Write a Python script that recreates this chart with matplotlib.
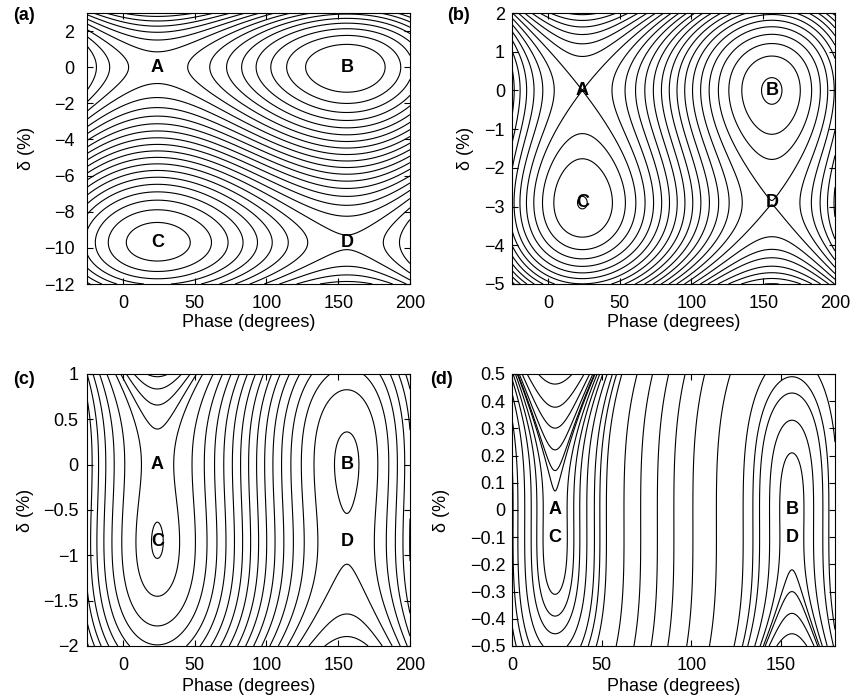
import numpy as np
import matplotlib
matplotlib.use("Agg")
import matplotlib.pyplot as plt

plt.rcParams['font.family'] = ['Liberation Sans', 'DejaVu Sans']

# ---- data / parameters ----
panel_names = ['(a)', '(b)', '(c)', '(d)']
phi_s_deg = 24.0                       # phase of fixed points A and C (deg)
delta2 = [-9.7, -2.9, -0.85, -0.1]     # momentum of fixed points C and D (%)
K_scale = [0.12, 0.12, 0.12, 0.12]     # kinetic / RF-potential ratio
xlims = [(-25, 200), (-25, 200), (-25, 200), (0, 180)]
ylims = [(-12, 3), (-5, 2), (-2, 1), (-0.5, 0.5)]
xticks = [[0, 50, 100, 150, 200], [0, 50, 100, 150, 200],
          [0, 50, 100, 150, 200], [0, 50, 100, 150]]
yticks = [list(range(-12, 3, 2)), list(range(-5, 3, 1)),
          [-2, -1.5, -1, -0.5, 0, 0.5, 1],
          [-0.5, -0.4, -0.3, -0.2, -0.1, 0, 0.1, 0.2, 0.3, 0.4, 0.5]]
ytick_labels = [None, None,
                ['−2', '−1.5', '−1', '−0.5', '0', '0.5', '1'],
                ['−0.5', '−0.4', '−0.3', '−0.2', '−0.1', '0', '0.1', '0.2', '0.3', '0.4', '0.5']]
point_names = ['A', 'B', 'C', 'D']

# contour levels: uniform steps anchored on a value (None = no uniform set)
level_step = [0.104, 0.05554, 0.0575, None]
level_anchor = ['B', 'A', -0.880, None]
level_max = [None, None, -0.01, None]
# extra contour lines through points
seed_delta_at_A = [[], [], [0.393, 0.658, 0.835, 0.97],
                   [0.07, 0.145, 0.221, 0.301, 0.378, 0.463, -0.31, -0.39, -0.455]]
seed_delta_at_B = [[], [0.33], [],
                   [0.21, 0.33, 0.43, 0.49, -0.22, -0.30, -0.38, -0.455]]
seed_phi_at_d0 = [[], [], [],
                  [0.6, 3.3, 7.1, 52.6, 62.4, 71.7, 81.0, 90.2, 100.8, 113.9, 128.8]]

fig = plt.figure(figsize=(8.53, 7.0), dpi=100)
W, Hh = 853, 700
boxes = [(87, 13, 410, 284), (512, 13, 835, 284),
         (87, 374, 410, 646), (512, 374, 835, 646)]
label_pos = [(13, 15), (447, 15), (13, 380), (430, 380)]
ytick_pad = [9, 5, 6, 4.5]
ylabel_x = [35, 474, 34, 450]          # right edge of rotated y label (px)
xlabel_top = [314, 314, 678, 678]      # top of x label (px)

ps = np.deg2rad(phi_s_deg)


def ham(phi_deg, d, i):
    pr = np.deg2rad(phi_deg)
    f = d**2 / 2 - d**3 / (3 * delta2[i])
    U = np.cos(pr) - np.cos(ps) + (pr - ps) * np.sin(ps)
    return K_scale[i] * f + U


for i in range(4):
    x0, y0, x1, y1 = boxes[i]
    ax = fig.add_axes([x0 / W, 1 - y1 / Hh, (x1 - x0) / W, (y1 - y0) / Hh])
    phi = np.linspace(xlims[i][0], xlims[i][1], 900)
    d = np.linspace(ylims[i][0], ylims[i][1], 900)
    P, D = np.meshgrid(phi, d)
    H = ham(P, D, i)
    HB = ham(180 - phi_s_deg, 0.0, i)
    levels = np.array([])
    if level_step[i] is not None:
        anc = level_anchor[i]
        if anc == 'A':
            a0 = ham(phi_s_deg, 0.0, i)
        elif anc == 'B':
            a0 = HB
        else:
            a0 = anc
        s = level_step[i]
        kmin = int(np.floor((H.min() - a0) / s)) - 1
        kmax = int(np.ceil((H.max() - a0) / s)) + 1
        levels = a0 + s * np.arange(kmin, kmax + 1)
        if level_max[i] is not None:
            levels = levels[levels < level_max[i]]
        # drop a degenerate ring hugging the B centre
        levels = levels[np.abs(levels - HB) > 0.003]
    extra = [ham(phi_s_deg, v, i) for v in seed_delta_at_A[i]]
    extra += [ham(180 - phi_s_deg, v, i) for v in seed_delta_at_B[i]]
    extra += [ham(v, 0.0, i) for v in seed_phi_at_d0[i]]
    levels = np.unique(np.concatenate([levels, extra]))
    levels = levels[(levels > H.min()) & (levels < H.max())]
    ax.contour(P, D, H, levels=levels, colors='k', linewidths=0.8,
               linestyles='solid')
    ax.set_xlim(xlims[i])
    ax.set_ylim(ylims[i])
    ax.set_xticks(xticks[i])
    ax.set_yticks(yticks[i])
    if ytick_labels[i] is not None:
        ax.set_yticklabels(ytick_labels[i])
    ax.tick_params(direction='in', top=True, right=True, labelsize=13, length=4)
    ax.tick_params(axis='x', pad=8)
    ax.tick_params(axis='y', pad=ytick_pad[i])
    ax.set_xlabel('Phase (degrees)', fontsize=13)
    ax.set_ylabel('δ (%)', fontsize=13)
    ax.xaxis.set_label_coords(0.5, (y1 - xlabel_top[i]) / (y1 - y0))
    ax.yaxis.set_label_coords((ylabel_x[i] - x0) / (x1 - x0), 0.5)
    pts = [(phi_s_deg, 0), (180 - phi_s_deg, 0),
           (phi_s_deg, delta2[i]), (180 - phi_s_deg, delta2[i])]
    for name, (px, py) in zip(point_names, pts):
        ax.text(px, py, name, fontsize=13, fontweight='bold', ha='center', va='center')
    fig.text(label_pos[i][0] / W, 1 - label_pos[i][1] / Hh, panel_names[i],
             fontsize=13, fontweight='bold', ha='left', va='center')

fig.savefig('out.png', dpi=100)
